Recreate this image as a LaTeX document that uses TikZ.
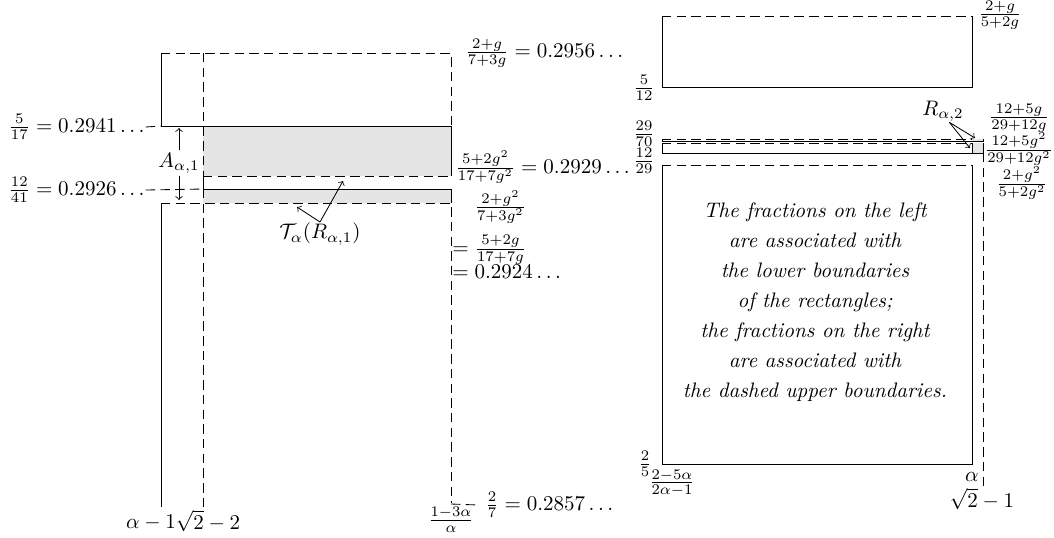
\documentclass[tikz,border=0pt]{standalone}
\usepackage{amsmath,amssymb}
\usepackage{tikz}
\usetikzlibrary{positioning,calc}

\tikzset{
    bnd/.style={dash pattern=on 4.5pt off 2.5pt},
    note/.style={align=center, font=\itshape\linespread{1.19}\selectfont}
}

\begin{document}
\begin{tikzpicture}[x=0.476pt, y=-0.476pt]
    \useasboundingbox (0,0) rectangle (1054,537);

    % left picture
    \fill[gray!20] (203,126) rectangle (451,176);
    \fill[gray!20] (203,189) rectangle (451,203);
    \draw (161,53) -- (161,126) -- (451,126) -- (451,176);
    \draw (203,176) -- (203,189) -- (451,189) -- (451,203);
    \draw (161,203) -- (161,507);
    \draw[bnd] (161,53) -- (451,53) -- (451,126);
    \draw[bnd] (203,53) -- (203,176);
    \draw[bnd] (203,189) -- (203,507);
    \draw[bnd] (203,176) -- (451,176);
    \draw[bnd] (161,203) -- (451,203) -- (451,503);

    \node[anchor=west] (l1) at (1,127) {$\frac{5}{17} = 0.2941\ldots$};
    \node[anchor=west] (l2) at (1,190) {$\frac{12}{41} = 0.2926\ldots$};
    \draw[bnd] ([xshift=-3pt]l1.east) -- (161,126);
    \draw[bnd] ([xshift=-3pt]l2.east) -- (203,189);

    \node[anchor=west] (r1) at (458,53) {$\frac{2+g}{7+3g} = 0.2956\ldots$};
    \node[anchor=west] (r2) at (448,167) {$\frac{5+2g^2}{17+7g^2} = 0.2929\ldots$};
    \node[anchor=north west, inner sep=0pt] (r3) at (452,190)
        {$\begin{aligned} &\tfrac{2+g^2}{7+3g^2}\\[1.9pt] ={}&\tfrac{5+2g}{17+7g}\\[-5.7pt] ={}&0.2924\ldots \end{aligned}$};
    \node (r4) at (451,520) {$\frac{1-3\alpha}{\alpha}$};
    \node[anchor=west] (r5) at (478,505) {$\frac{2}{7} = 0.2857\ldots$};
    \draw[bnd] (451,504) -- (r5.west);

    \node (x1) at (151,523) {$\alpha-1$};
    \node (x2) at (208,521) {$\sqrt{2}-2$};

    % A_{alpha,1}
    \node[inner sep=1pt] (A) at (179,163) {$A_{\alpha,1}$};
    \coordinate (A1) at (179,128);
    \coordinate (A2) at (179,200);
    \draw[->] (A.north) -- (A1);
    \draw[->] (A.south) -- (A2);

    % T_alpha(R_{alpha,1})
    \node (T) at (320,234) {$\mathcal{T}_\alpha(R_{\alpha,1})$};
    \coordinate (T1) at (343,181);
    \coordinate (T2) at (297,207);
    \draw[->] ([yshift=-3pt]T.north) -- (T1);
    \draw[->] ([yshift=-3pt]T.north) -- (T2);

    % right picture
    \draw[bnd] (662,16) -- (972,16);
    \draw (662,16) -- (662,87) -- (972,87) -- (972,16);
    \fill[gray!20] (972,139) rectangle (983,141);
    \fill[gray!20] (972,143) rectangle (983,153);
    \draw[bnd] (662,139) -- (972,139);
    \draw (662,139) -- (662,141) -- (983,141) -- (983,139);
    \draw[bnd] (662,143) -- (972,143);
    \draw (662,143) -- (662,153) -- (983,153) -- (983,143);
    \draw (972,143) -- (972,153);
    \draw[bnd] (983,153) -- (983,487);
    \draw[bnd] (662,165) -- (972,165);
    \draw (662,165) -- (662,464) -- (972,464) -- (972,165);

    \node (y1) at (644,88) {$\frac{5}{12}$};
    \node (y2) at (644,134) {$\frac{29}{70}$};
    \node (y3) at (644,161) {$\frac{12}{29}$};
    \node (y4) at (645,464) {$\frac{2}{5}$};
    \node (y5) at (672,483) {$\frac{2-5\alpha}{2\alpha-1}$};

    \node (z1) at (1000,15) {$\frac{2+g}{5+2g}$};
    \node (z2) at (1019,118) {$\frac{12+5g}{29+12g}$};
    \node (z3) at (1019,149) {$\frac{12+5g^2}{29+12g^2}$};
    \node (z4) at (1022,183) {$\frac{2+g^2}{5+2g^2}$};
    \node (z5) at (972,477) {$\alpha$};
    \node (z6) at (982,499) {$\sqrt{2}-1$};

    % R_{alpha,2}
    \node (R) at (943,111) {$R_{\alpha,2}$};
    \coordinate (R1) at (975,138);
    \coordinate (R2) at (970,148);
    \draw[->] ([xshift=3pt,yshift=3pt]R.south) -- (R1);
    \draw[->] ([xshift=3pt,yshift=3pt]R.south) -- (R2);

    \node[note] (txt) at (815,302) {The fractions on the left\\ are associated with\\ the lower boundaries\\ of the rectangles;\\ the fractions on the right\\ are associated with\\ the dashed upper boundaries.};
\end{tikzpicture}
\end{document}
